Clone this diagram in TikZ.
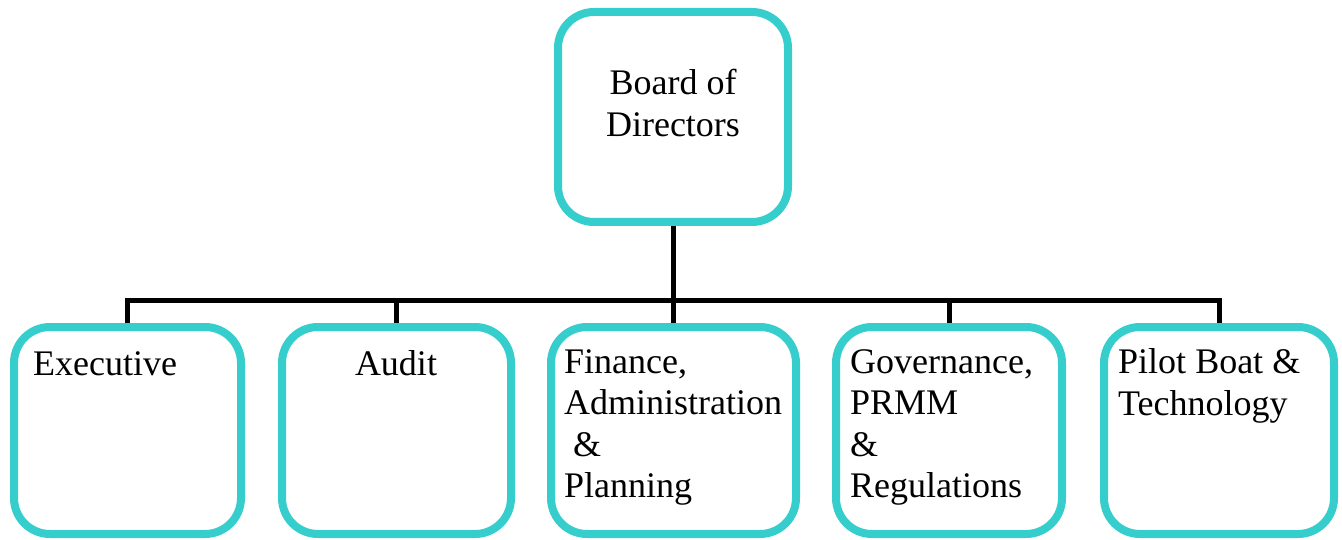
\documentclass[tikz,border=0pt]{standalone}
\usepackage{fontspec}
\setmainfont{Liberation Serif}
\definecolor{boxteal}{RGB}{54,205,205}
\tikzset{
  unit/.style={draw=boxteal, line width=8pt, rounded corners=36pt, fill=white,
    minimum height=207pt, inner sep=0pt},
  conn/.style={draw=black, line width=5pt},
  lbl/.style={inner sep=0pt, align=left, font=\fontsize{36}{41.5}\selectfont},
}
\begin{document}
\begin{tikzpicture}[x=1pt,y=-1pt]
\useasboundingbox (0,0) rectangle (1342,540);

% board
\node[unit, minimum width=230pt, minimum height=210pt] (board) at (673,117) {};
% multi-line labels are placed by the baseline of their last line
\node[lbl, align=center, anchor=base, font=\fontsize{36}{42}\selectfont] (board-t) at (673,137) {Board of\\Directors};

% committees
\node[unit, minimum width=227pt] (exec)  at (127.5,430.5) {};
\node[unit, minimum width=229pt] (audit) at (396.5,430.5) {};
\node[unit, minimum width=245pt] (fin)   at (673.5,430.5) {};
\node[unit, minimum width=226pt] (gov)   at (949,430.5) {};
\node[unit, minimum width=230pt] (pilot) at (1219,430.5) {};

\node[lbl, anchor=base west] (exec-t)  at (33,375)   {Executive};
\node[lbl, anchor=base]      (audit-t) at (396,375)  {Audit};
\node[lbl, anchor=base west] (fin-t)   at (564,497.5) {Finance,\\Administration\\\ \&\\Planning};
\node[lbl, anchor=base west] (gov-t)   at (850,497.5) {Governance,\\PRMM\\\&\\Regulations};
\node[lbl, anchor=base west, font=\fontsize{36}{42}\selectfont] (pilot-t) at (1118,415) {Pilot Boat \&\\Technology};

% connectors
\coordinate (bus) at (673,300);
\draw[conn] (board.south) -- (bus);
\draw[conn] (exec.north) |- (bus) -| (pilot.north);
\draw[conn] (audit.north) -- (audit.north |- bus);
\draw[conn] (fin.north) -- (fin.north |- bus);
\draw[conn] (gov.north) -- (gov.north |- bus);
\end{tikzpicture}
\end{document}
